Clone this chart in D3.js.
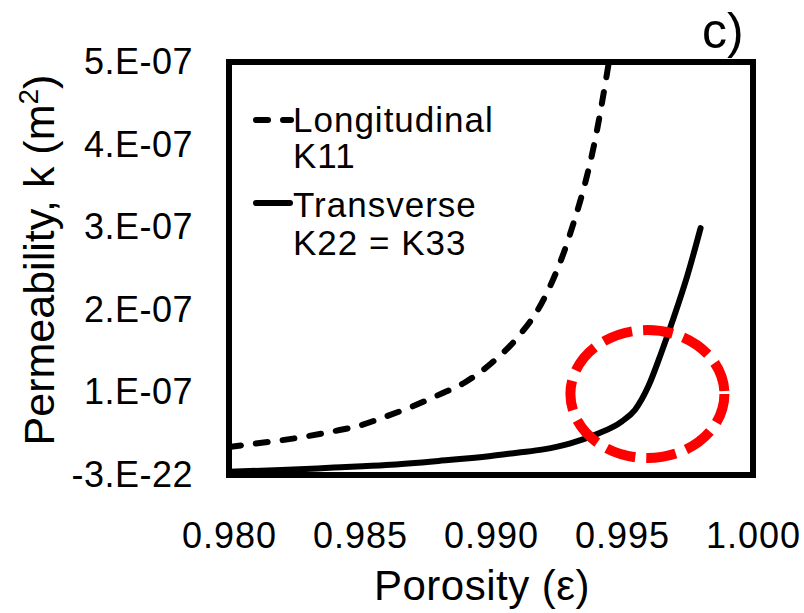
<!DOCTYPE html>
<html>
<head>
<meta charset="utf-8">
<script src="https://cdn.jsdelivr.net/npm/d3@7"></script>
<style>
  html, body { margin: 0; padding: 0; background: #fff; }
  svg { display: block; font-family: "Liberation Sans", Arial, sans-serif; }
</style>
</head>
<body>
<svg id="chart" width="804" height="613"></svg>
<script>
// ---- Data ----
const longitudinalPorosity = [0.980, 0.981, 0.982, 0.983, 0.984, 0.985, 0.986, 0.987, 0.988, 0.989, 0.990, 0.991, 0.992, 0.993, 0.994, 0.9945];
const longitudinalK11 = [0.34e-7, 0.38e-7, 0.42e-7, 0.47e-7, 0.53e-7, 0.60e-7, 0.71e-7, 0.83e-7, 0.97e-7, 1.12e-7, 1.35e-7, 1.66e-7, 2.12e-7, 2.90e-7, 4.10e-7, 5.00e-7];

const transversePorosity = [0.980, 0.982, 0.984, 0.986, 0.988, 0.990, 0.991, 0.992, 0.993, 0.994, 0.995, 0.9955, 0.996, 0.9965, 0.997, 0.9975, 0.998];
const transverseK22 = [0.04e-7, 0.06e-7, 0.09e-7, 0.12e-7, 0.17e-7, 0.23e-7, 0.27e-7, 0.31e-7, 0.38e-7, 0.49e-7, 0.65e-7, 0.79e-7, 1.07e-7, 1.48e-7, 1.93e-7, 2.42e-7, 2.99e-7];

const xTickValues = [0.980, 0.985, 0.990, 0.995, 1.000];
const xTickLabels = ["0.980", "0.985", "0.990", "0.995", "1.000"];
const yTickValues = [0, 1e-7, 2e-7, 3e-7, 4e-7, 5e-7];
const yTickLabels = ["-3.E-22", "1.E-07", "2.E-07", "3.E-07", "4.E-07", "5.E-07"];

const legendLabels = [["Longitudinal", "K11"], ["Transverse", "K22 = K33"]];
const xTitle = "Porosity (ε)";
const panelLabel = "c)";
// highlighted knee (annotation, in data coordinates)
const highlightPorosity = 0.99597;
const highlightK = 0.98e-7;

// ---- Layout ----
const svg = d3.select("#chart");
const plot = { left: 229, right: 753, top: 62, bottom: 475 };

const x = d3.scaleLinear().domain([0.98, 1.0]).range([plot.left, plot.right]);
const y = d3.scaleLinear().domain([0, 5e-7]).range([plot.bottom, plot.top]);

// ---- Curves ----
const line = d3.line().x(d => x(d[0])).y(d => y(d[1])).curve(d3.curveMonotoneX);

svg.append("path")
  .datum(longitudinalPorosity.map((p, i) => [p, longitudinalK11[i]]))
  .attr("d", line)
  .attr("fill", "none")
  .attr("stroke", "#000")
  .attr("stroke-width", 6)
  .attr("stroke-linecap", "round")
  .attr("stroke-dasharray", "12,15");

svg.append("path")
  .datum(transversePorosity.map((p, i) => [p, transverseK22[i]]))
  .attr("d", line)
  .attr("fill", "none")
  .attr("stroke", "#000")
  .attr("stroke-width", 6)
  .attr("stroke-linecap", "round");

// ---- Frame ----
svg.append("rect")
  .attr("x", plot.left).attr("y", plot.top)
  .attr("width", plot.right - plot.left).attr("height", plot.bottom - plot.top)
  .attr("fill", "none").attr("stroke", "#000").attr("stroke-width", 6);

// ---- Axes ----
const xAxis = d3.axisBottom(x).tickValues(xTickValues)
  .tickFormat((d, i) => xTickLabels[i]).tickSize(0).tickPadding(47);
const gx = svg.append("g").attr("transform", `translate(0,${plot.bottom})`).call(xAxis);
gx.select(".domain").remove();
gx.selectAll("text").attr("font-size", 36).attr("letter-spacing", 1).attr("fill", "#000")
  .attr("font-family", '"Liberation Sans", Arial, sans-serif');

const yAxis = d3.axisLeft(y).tickValues(yTickValues)
  .tickFormat((d, i) => yTickLabels[i]).tickSize(0).tickPadding(36);
const gy = svg.append("g").attr("transform", `translate(${plot.left},0)`).call(yAxis);
gy.select(".domain").remove();
gy.selectAll("text").attr("font-size", 36).attr("letter-spacing", 0.5).attr("fill", "#000")
  .attr("font-family", '"Liberation Sans", Arial, sans-serif');

// ---- Axis titles ----
svg.append("text")
  .attr("x", 482).attr("y", 600)
  .attr("text-anchor", "middle")
  .attr("font-size", 42).attr("letter-spacing", 0.5).attr("fill", "#000")
  .text(xTitle);

const yt = svg.append("text")
  .attr("transform", "translate(54,260) rotate(-90)")
  .attr("text-anchor", "middle")
  .attr("font-size", 43).attr("fill", "#000");
yt.append("tspan").text("Permeability, k (m");
yt.append("tspan").attr("font-size", 28).attr("dy", -16).text("2");
yt.append("tspan").attr("dy", 16).text(")");

// ---- Panel label ----
svg.append("text")
  .attr("x", 702).attr("y", 48)
  .attr("font-size", 50).attr("fill", "#000")
  .text(panelLabel);

// ---- Legend ----
svg.append("line")
  .attr("x1", 256).attr("x2", 291).attr("y1", 120).attr("y2", 120)
  .attr("stroke", "#000").attr("stroke-width", 6)
  .attr("stroke-linecap", "round").attr("stroke-dasharray", "12,15");
svg.append("line")
  .attr("x1", 256).attr("x2", 290).attr("y1", 203).attr("y2", 203)
  .attr("stroke", "#000").attr("stroke-width", 6).attr("stroke-linecap", "round");

const legendY = [[132, 168], [217, 255]];
legendLabels.forEach((lines, i) => {
  lines.forEach((t, j) => {
    svg.append("text")
      .attr("x", 293).attr("y", legendY[i][j])
      .attr("font-size", 35).attr("letter-spacing", 1).attr("fill", "#000")
      .text(t);
  });
});

// ---- Red dashed highlight ellipse ----
svg.append("ellipse")
  .attr("cx", x(highlightPorosity)).attr("cy", y(highlightK))
  .attr("rx", 77).attr("ry", 64)
  .attr("fill", "none").attr("stroke", "#ff0000")
  .attr("stroke-width", 10).attr("stroke-dasharray", "30,11");
</script>
</body>
</html>
